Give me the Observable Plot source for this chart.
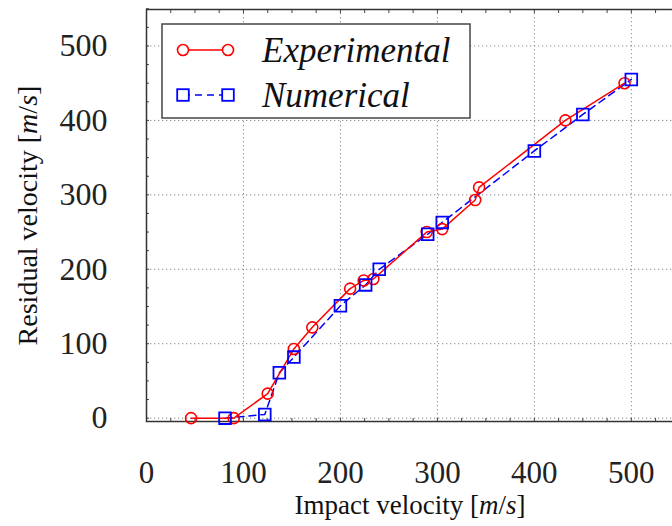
<!DOCTYPE html>
<html>
<head>
<meta charset="utf-8">
<script src="https://cdn.jsdelivr.net/npm/d3@7"></script>
<script src="https://cdn.jsdelivr.net/npm/@observablehq/plot@0.6"></script>
<style>
  html, body { margin: 0; padding: 0; background: white; overflow: hidden; }
  #chart { width: 672px; height: 526px; position: relative; }
</style>
</head>
<body>
<div id="chart"></div>
<script>
// ---- data ----
const expX = [46, 90, 125, 152, 171, 210, 224, 234, 289, 305, 339, 343, 432, 493];
const expY = [0, 0, 33, 93, 122, 174, 185, 187, 250, 254, 293, 310, 400, 450];
const numX = [81, 122, 137, 152, 200, 226, 240, 290, 305, 400, 450, 500];
const numY = [0, 5, 61, 82, 151, 179, 200, 247, 263, 359, 408, 455];
const xTicks = [0, 100, 200, 300, 400, 500];
const yTicks = [0, 100, 200, 300, 400, 500];
const minorStep = 25;
const seriesNames = ["Experimental", "Numerical"];
const xTitle = ["Impact velocity [", "m", "/", "s", "]"];
const yTitle = ["Residual velocity [", "m", "/", "s", "]"];

const experimental = expX.map((x, i) => ({x, y: expY[i]}));
const numerical = numX.map((x, i) => ({x, y: numY[i]}));
const minor = d3.range(0, 551, minorStep);

const RED = "#ff0000", BLUE = "#0000ff";
const serif = "'Liberation Serif', 'DejaVu Serif', serif";
const gridStyle = {stroke: "#8a8a8a", strokeOpacity: 1, strokeWidth: 1, strokeDasharray: "1.3,2.7"};

const plot = Plot.plot({
  width: 672,
  height: 526,
  marginLeft: 146,
  marginRight: -1,
  marginTop: 9,
  marginBottom: 105,
  x: {domain: [0, 543.5]},
  y: {domain: [-4.5, 549]},
  style: {fontFamily: serif, background: "white", color: "#222"},
  marks: [
    Plot.gridX(xTicks.slice(1), gridStyle),
    Plot.gridY(yTicks, gridStyle),
    Plot.axisX({anchor: "bottom", ticks: minor, tickSize: -3, tickFormat: () => "", label: null, stroke: "#444"}),
    Plot.axisX({anchor: "top", ticks: minor, tickSize: -3, tickFormat: () => "", label: null, stroke: "#444"}),
    Plot.axisY({anchor: "left", ticks: minor, tickSize: -3, tickFormat: () => "", label: null, stroke: "#444"}),
    Plot.axisX({anchor: "bottom", ticks: xTicks, tickSize: 0, tickPadding: 39, fontSize: 31, label: null, tickFormat: d3.format("d")}),
    Plot.axisY({anchor: "left", ticks: yTicks, tickSize: 0, tickPadding: 39, fontSize: 32, label: null, tickFormat: d3.format("d")}),
    Plot.frame({stroke: "#333", strokeWidth: 1.5}),
    Plot.line(numerical, {x: "x", y: "y", stroke: BLUE, strokeWidth: 1.5, strokeDasharray: "7,5"}),
    Plot.line(experimental, {x: "x", y: "y", stroke: RED, strokeWidth: 1.5}),
    Plot.dot(experimental, {x: "x", y: "y", symbol: "circle", r: 5.5, stroke: RED, strokeWidth: 1.6, fill: "none"}),
    Plot.dot(numerical, {x: "x", y: "y", symbol: "square", r: 6.6, stroke: BLUE, strokeWidth: 1.8, fill: "none"}),
    Plot.text([xTitle.join("")], {frameAnchor: "bottom", textAnchor: "middle", dy: 92, fontSize: 27, fill: "#111", className: "xtitle"}),
    Plot.text([yTitle.join("")], {frameAnchor: "left", textAnchor: "middle", dx: -118, rotate: -90, fontSize: 28, fill: "#111", className: "ytitle"})
  ]
});

document.getElementById("chart").appendChild(plot);
const svg = d3.select(plot);

// Titles with italic math parts
function mathify(sel, parts) {
  sel.each(function() {
    const t = d3.select(this);
    t.text(null);
    parts.forEach((p, i) => {
      const ts = t.append("tspan").text(p);
      if (i === 1 || i === 3) ts.attr("font-style", "italic");
    });
  });
}
mathify(svg.selectAll(".xtitle text"), xTitle);
mathify(svg.selectAll(".ytitle text"), yTitle);

// Legend box (pixel layout inside the plot frame)
const lg = svg.append("g").attr("transform", "translate(162,24)");
lg.append("rect").attr("width", 308).attr("height", 94)
  .attr("fill", "white").attr("stroke", "#444").attr("stroke-width", 1.5);
const rows = [
  {name: seriesNames[0], color: RED, dash: null, sym: "circle", y: 26},
  {name: seriesNames[1], color: BLUE, dash: "7,5", sym: "square", y: 71}
];
rows.forEach(r => {
  lg.append("line").attr("x1", 21).attr("x2", 66).attr("y1", r.y).attr("y2", r.y)
    .attr("stroke", r.color).attr("stroke-width", 1.5).attr("stroke-dasharray", r.dash);
  [21, 66].forEach(cx => {
    if (r.sym === "circle") {
      lg.append("circle").attr("cx", cx).attr("cy", r.y).attr("r", 5.5)
        .attr("fill", "white").attr("stroke", r.color).attr("stroke-width", 1.6);
    } else {
      lg.append("rect").attr("x", cx - 5.8).attr("y", r.y - 5.8).attr("width", 11.6).attr("height", 11.6)
        .attr("fill", "white").attr("stroke", r.color).attr("stroke-width", 1.8);
    }
  });
  lg.append("text").attr("x", 100).attr("y", r.y).attr("dy", "0.35em")
    .attr("text-anchor", "start")
    .attr("font-family", serif).attr("font-style", "italic").attr("font-size", 35)
    .attr("fill", "#111").text(r.name);
});
</script>
</body>
</html>
